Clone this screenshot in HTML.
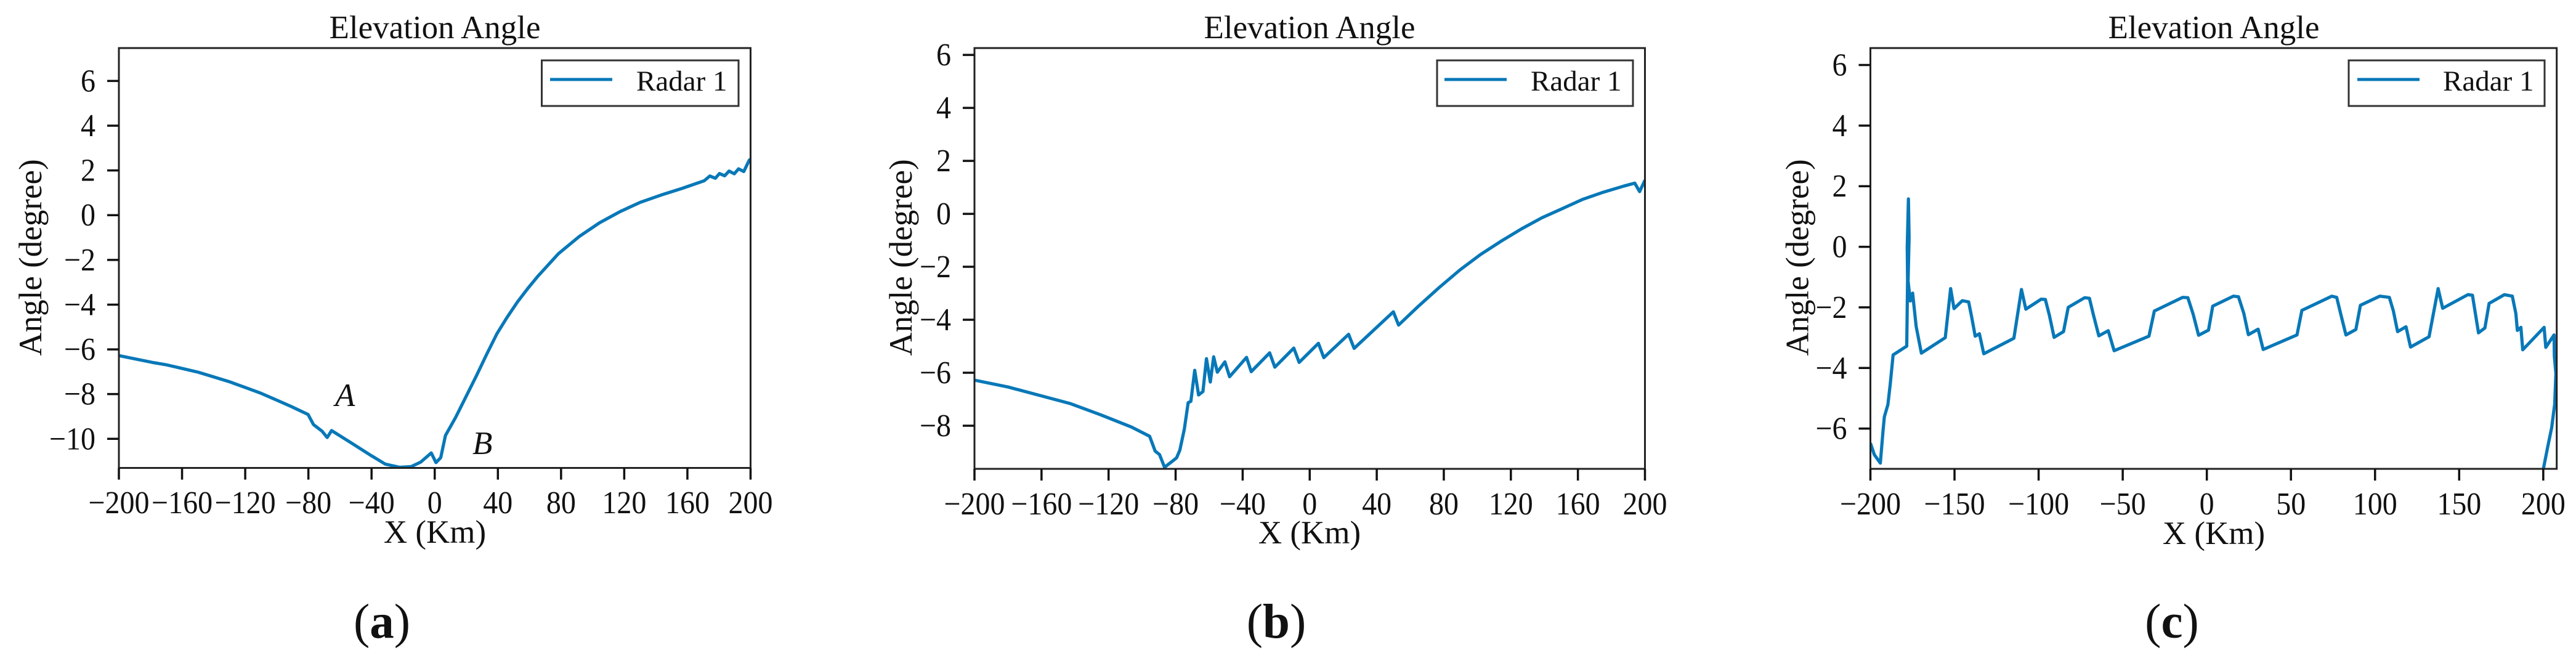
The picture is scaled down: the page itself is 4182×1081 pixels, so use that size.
<!DOCTYPE html>
<html lang="en">
<head>
<meta charset="utf-8">
<title>Elevation Angle panels</title>
<style>
  html, body { margin: 0; padding: 0; background: #fff; }
  body { width: 4182px; height: 1081px; overflow: hidden; }
  svg { display: block; }
  text { font-family: "Liberation Serif", "Times New Roman", serif; fill: #111; }
  .title, .axis-title { font-size: 53px; }
  .tick-label { font-size: 48px; }
  .legend-label { font-size: 47px; }
  .caption { font-size: 79px; text-anchor: middle; }
  .note { font-size: 53px; font-style: italic; }
  .frame { fill: none; stroke: #222; stroke-width: 3; }
  .legend-box { fill: #fff; stroke: #333; stroke-width: 3; }
  .legend-line { stroke: #0878b8; stroke-width: 5; }
  .tick { stroke: #111; stroke-width: 3.5; }
  .series { fill: none; stroke: #0878b8; stroke-width: 5.2; stroke-linejoin: round; stroke-linecap: butt; }
</style>
</head>
<body>
<svg id="figure" width="4182" height="1081" viewBox="0 0 4182 1081" xmlns="http://www.w3.org/2000/svg">
  <rect width="4182" height="1081" fill="#fff"/>

  <g id="panel-a">
    <text class="title" x="706" y="62" text-anchor="middle">Elevation Angle</text>
    <text class="axis-title" x="706" y="881" text-anchor="middle">X (Km)</text>
    <text class="axis-title" transform="translate(67 418) rotate(-90)" text-anchor="middle">Angle (degree)</text>
    <text class="note" x="544" y="659">A</text>
    <text class="note" x="767" y="737">B</text>
    <rect class="legend-box" x="879.5" y="98" width="319.5" height="74"/>
    <line class="legend-line" x1="893" x2="994" y1="129" y2="129"/>
    <text class="legend-label" x="1033" y="147">Radar 1</text>
    <text class="caption" x="620" y="1035">(<tspan font-weight="bold">a</tspan>)</text>
  </g>

  <g id="panel-b">
    <text class="title" x="2126" y="62" text-anchor="middle">Elevation Angle</text>
    <text class="axis-title" x="2126" y="882" text-anchor="middle">X (Km)</text>
    <text class="axis-title" transform="translate(1480 418) rotate(-90)" text-anchor="middle">Angle (degree)</text>
    <rect class="legend-box" x="2333" y="98" width="318" height="74"/>
    <line class="legend-line" x1="2345" x2="2446" y1="129" y2="129"/>
    <text class="legend-label" x="2485" y="147">Radar 1</text>
    <text class="caption" x="2072" y="1035">(<tspan font-weight="bold">b</tspan>)</text>
  </g>

  <g id="panel-c">
    <text class="title" x="3594" y="62" text-anchor="middle">Elevation Angle</text>
    <text class="axis-title" x="3594" y="883" text-anchor="middle">X (Km)</text>
    <text class="axis-title" transform="translate(2935.5 418) rotate(-90)" text-anchor="middle">Angle (degree)</text>
    <rect class="legend-box" x="3813" y="98" width="318" height="74"/>
    <line class="legend-line" x1="3827" x2="3928" y1="129" y2="129"/>
    <text class="legend-label" x="3966" y="147">Radar 1</text>
    <text class="caption" x="3526" y="1035">(<tspan font-weight="bold">c</tspan>)</text>
  </g>
</svg>

<script>
/* ---------- data: panel (a) ---------- */
const xKmA = [-200,-179,-169.3,-159.5,-149.8,-140,-130.3,-120.5,-110.8,-101,-90.7,-80.2,-76.8,-71.3,-68.1,-65.3,-52.2,-40.2,-31.3,-22.3,-14.9,-8.9,-2.2,0.8,3.8,6.8,13.4,19.9,26.4,32.9,39.4,45.9,52.4,58.9,65.3,71.9,78.4,91.4,104.4,117.4,130.4,143.4,156.4,170.7,174.2,177.7,180.3,183.6,186.4,189.7,192.4,195.7,199.2,200];
const angleA = [-6.28,-6.58,-6.7,-6.86,-7.02,-7.23,-7.44,-7.69,-7.94,-8.24,-8.56,-8.91,-9.36,-9.66,-9.94,-9.63,-10.21,-10.75,-11.13,-11.27,-11.24,-11.04,-10.63,-11.06,-10.84,-9.85,-9.02,-8.1,-7.18,-6.22,-5.3,-4.56,-3.88,-3.28,-2.73,-2.22,-1.72,-0.96,-0.34,0.16,0.58,0.9,1.19,1.54,1.75,1.65,1.86,1.76,1.97,1.85,2.07,1.95,2.46,2.5];
const xTicksA = [-200,-160,-120,-80,-40,0,40,80,120,160,200];
const yTicksA = [6,4,2,0,-2,-4,-6,-8,-10];

/* ---------- data: panel (b) ---------- */
const xKmB = [-200,-179.9,-161.5,-143.1,-124.7,-106.4,-95.5,-92.2,-89.6,-86.6,-81.7,-79.4,-77.5,-74.8,-72.5,-70.9,-68.6,-66.3,-63.7,-61.6,-59.3,-57.3,-55.1,-50.6,-47.8,-37.7,-34.9,-23.9,-20.8,-9.5,-6.3,5.2,8.4,23.2,26.5,49.9,53,65,77.3,89.6,101.8,114,126.3,138.5,150.8,163,175.3,187.5,193.9,196.8,200];
const angleB = [-6.28,-6.54,-6.85,-7.16,-7.59,-8.05,-8.4,-8.96,-9.09,-9.57,-9.33,-9.21,-8.93,-8.13,-7.13,-7.08,-5.91,-6.84,-6.71,-5.47,-6.35,-5.4,-5.98,-5.59,-6.15,-5.42,-5.96,-5.25,-5.79,-5.07,-5.61,-4.89,-5.43,-4.55,-5.08,-3.7,-4.2,-3.48,-2.78,-2.12,-1.54,-1.04,-0.57,-0.15,0.2,0.55,0.82,1.05,1.16,0.84,1.27];
const xTicksB = [-200,-160,-120,-80,-40,0,40,80,120,160,200];
const yTicksB = [6,4,2,0,-2,-4,-6,-8];

/* ---------- data: panel (c) ---------- */
const xKmC = [-200,-197.7,-194.1,-192.4,-191.7,-189.6,-188.2,-186.5,-178.4,-177.9,-178.1,-177.4,-177,-177.6,-176.3,-174.9,-172.8,-169.7,-155.5,-152.3,-150.3,-145.4,-141.6,-139.9,-137.7,-135.2,-132.6,-114.7,-110.2,-107.6,-98.5,-96,-93.6,-90.8,-85.2,-82.4,-72.6,-69.8,-67.5,-64.2,-58.6,-55.1,-34.4,-31.2,-14.4,-11.3,-8.1,-4.9,1,3.5,15.8,18.8,22,24.7,30.5,33.5,53.6,56.5,74.3,77.2,79.7,82.7,88.6,91.3,102.8,108.5,110.9,113.4,118.4,121.1,132.1,137.5,140.2,155.2,157.9,161.5,165.3,167.8,176.9,181.6,183.7,184.6,186.7,187.8,200.5,201.5,206.4,206.6,207.5,206.8,205,202.7,200];
const angleC = [-6.48,-6.86,-7.14,-6.02,-5.61,-5.21,-4.53,-3.57,-3.28,-1.1,0,1.58,0.3,-1.13,-1.79,-1.53,-2.63,-3.51,-3.0,-1.38,-2.04,-1.78,-1.82,-2.29,-2.95,-2.87,-3.53,-3.02,-1.41,-2.06,-1.73,-1.74,-2.26,-2.99,-2.8,-2.0,-1.68,-1.7,-2.23,-2.94,-2.77,-3.43,-2.95,-2.12,-1.67,-1.68,-2.23,-2.92,-2.75,-1.96,-1.63,-1.65,-2.2,-2.9,-2.72,-3.39,-2.91,-2.1,-1.63,-1.67,-2.24,-2.91,-2.73,-1.93,-1.63,-1.67,-2.12,-2.8,-2.64,-3.31,-2.97,-1.38,-2.03,-1.58,-1.6,-2.84,-2.68,-1.87,-1.58,-1.63,-2.2,-2.76,-2.66,-3.4,-2.66,-3.32,-2.91,-3.62,-4.18,-5.19,-5.97,-6.59,-7.35];
const xTicksC = [-200,-150,-100,-50,0,50,100,150,200];
const yTicksC = [6,4,2,0,-2,-4,-6];

/* ---------- axis limits ---------- */
const xLimA = [-200, 200];
const yLimA = [-11.3, 7.47];
const xLimB = [-200, 200];
const yLimB = [-9.63, 6.26];
const xLimC = [-200, 208];
const yLimC = [-7.33, 6.56];

const SVG_NS = 'http://www.w3.org/2000/svg';

function makeSvg(tag, cls) {
  const el = document.createElementNS(SVG_NS, tag);
  if (cls) el.setAttribute('class', cls);
  return el;
}

function fmt(v) {
  return v < 0 ? '\u2212' + Math.abs(v) : String(v);
}

function drawPanel(id, box, xs, ys, xTicks, yTicks, xLim, yLim) {
  const group = document.getElementById(id);
  const xScale = function (v) { return box.left + (v - xLim[0]) / (xLim[1] - xLim[0]) * (box.right - box.left); };
  const yScale = function (v) { return box.bottom - (v - yLim[0]) / (yLim[1] - yLim[0]) * (box.bottom - box.top); };

  const clip = makeSvg('clipPath');
  clip.setAttribute('id', id + '-clip');
  const clipRect = makeSvg('rect');
  clipRect.setAttribute('x', box.left);
  clipRect.setAttribute('y', box.top);
  clipRect.setAttribute('width', box.right - box.left);
  clipRect.setAttribute('height', box.bottom - box.top);
  clip.appendChild(clipRect);
  group.appendChild(clip);

  const line = makeSvg('polyline', 'series');
  
  
  line.setAttribute('clip-path', 'url(#' + id + '-clip)');
  line.setAttribute('points', xs.map(function (x, i) {
    return xScale(x).toFixed(2) + ',' + yScale(ys[i]).toFixed(2);
  }).join(' '));
  group.appendChild(line);

  const frame = makeSvg('rect', 'frame');
  
  
  frame.setAttribute('x', box.left);
  frame.setAttribute('y', box.top);
  frame.setAttribute('width', box.right - box.left);
  frame.setAttribute('height', box.bottom - box.top);
  group.appendChild(frame);

  // keep the legend above the plot frame and series
  ['.legend-box', '.legend-line', '.legend-label'].forEach(function (sel) {
    group.appendChild(group.querySelector(sel));
  });

  xTicks.forEach(function (v) {
    const tick = makeSvg('line', 'tick');
    
    
    tick.setAttribute('x1', xScale(v));
    tick.setAttribute('x2', xScale(v));
    tick.setAttribute('y1', box.bottom);
    tick.setAttribute('y2', box.bottom + 19);
    group.appendChild(tick);

    const label = makeSvg('text', 'tick-label');
    
    
    label.setAttribute('transform', 'translate(' + xScale(v) + ' ' + box.xLabelBase + ') scale(1 1.08)');
    label.setAttribute('text-anchor', 'middle');
    label.textContent = fmt(v);
    group.appendChild(label);
  });

  yTicks.forEach(function (v) {
    const tick = makeSvg('line', 'tick');
    
    
    tick.setAttribute('x1', box.left - 19);
    tick.setAttribute('x2', box.left);
    tick.setAttribute('y1', yScale(v));
    tick.setAttribute('y2', yScale(v));
    group.appendChild(tick);

    const label = makeSvg('text', 'tick-label');
    
    
    label.setAttribute('transform', 'translate(' + (box.left - 38) + ' ' + (yScale(v) + 17) + ') scale(1 1.08)');
    label.setAttribute('text-anchor', 'end');
    label.textContent = fmt(v);
    group.appendChild(label);
  });
}

drawPanel('panel-a', { left: 193, right: 1218.5, top: 78, bottom: 759.5, xLabelBase: 833 }, xKmA, angleA, xTicksA, yTicksA, xLimA, yLimA);
drawPanel('panel-b', { left: 1582, right: 2670.5, top: 78, bottom: 761, xLabelBase: 835 }, xKmB, angleB, xTicksB, yTicksB, xLimB, yLimB);
drawPanel('panel-c', { left: 3036.5, right: 4150.7, top: 78, bottom: 761, xLabelBase: 835 }, xKmC, angleC, xTicksC, yTicksC, xLimC, yLimC);
</script>
</body>
</html>
